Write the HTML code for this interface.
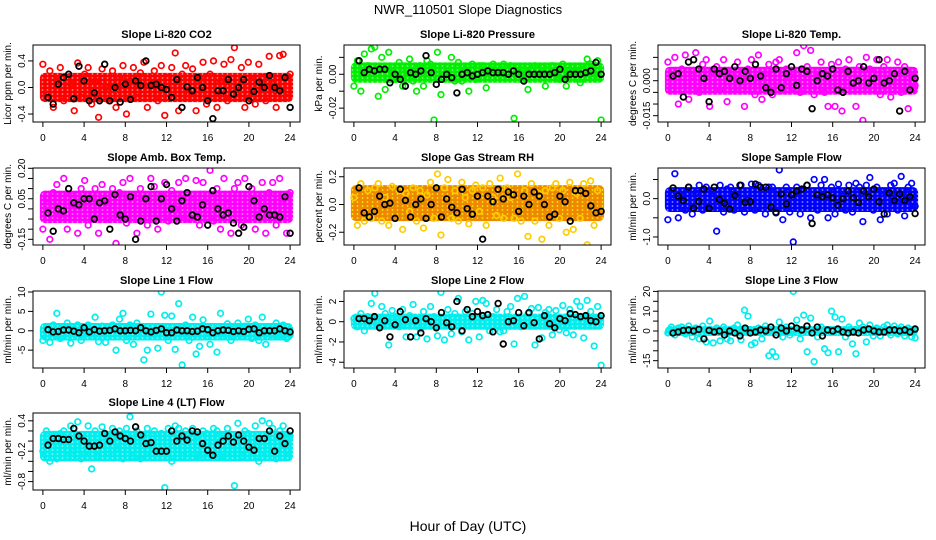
<!DOCTYPE html>
<html><head><meta charset="utf-8">
<style>
html,body{margin:0;padding:0;background:#fff;}
svg{display:block;font-family:"Liberation Sans",sans-serif;}
</style></head>
<body>
<svg id="chart" width="936" height="540" viewBox="0 0 936 540">
<text x="468" y="14" text-anchor="middle" font-size="13">NWR_110501  Slope Diagnostics</text>
<text x="468" y="531" text-anchor="middle" font-size="14">Hour of Day (UTC)</text>
</svg>
<script>
const hourTicks = [0,4,8,12,16,20,24];
const titles = ["Slope Li-820 CO2","Slope Li-820 Pressure","Slope Li-820 Temp.","Slope Amb. Box Temp.","Slope Gas Stream RH","Slope Sample Flow","Slope Line 1 Flow","Slope Line 2 Flow","Slope Line 3 Flow","Slope Line 4 (LT) Flow"];
const yTitles = ["Licor ppm per min.","kPa per min.","degrees C per min.","degrees C per min.","percent per min.","ml/min per min.","ml/min per min.","ml/min per min.","ml/min per min.","ml/min per min."];
const yRanges = [[-0.52,0.64],[-0.0282,0.0173],[-0.0177,0.0153],[-0.178,0.2015],[-0.292,0.263],[-1.21,0.80],[-9.6,10.26],[-4.57,3.03],[-18.7,20.2],[-0.966,0.554]];
const yTicks = [[-0.4,0,0.4],[-0.03,-0.02,-0.01,0,0.01],[-0.015,-0.01,-0.005,0,0.005,0.01],[-0.15,-0.1,-0.05,0,0.05,0.1,0.15,0.2],[-0.2,0,0.2],[-1,-0.5,0,0.5],[-5,0,5,10],[-4,-2,0,2],[-15,-10,-5,0,5,10,15,20],[-0.8,-0.6,-0.4,-0.2,0,0.2,0.4]];
const yTickLabels = [["-0.4","0.0","0.4"],["","-0.02","","0.00",""],["-0.015","","","0.000","",""],["-0.15","","","","0.05","","","0.20"],["-0.2","0.0","0.2"],["-1.0","","0.0",""],["-5","0","5","10"],["-4","-2","0","2"],["-15","","","0","","10","","20"],["-0.8","","","-0.2","","","0.4"]];
const colors = ["#ff0000","#00ee00","#ff00ff","#ff00ff","#ffcc00","#0000ff","#00eeee","#00eeee","#00eeee","#00eeee"];
const coreColors = ["#ff0000","#00ee00","#ff00ff","#ff00ff","#ee8800","#0000ff","#00eeee","#00eeee","#00eeee","#00eeee"];
const coreBands = [[-0.22,0.22],[-0.005,0.007],[-0.006,0.006],[-0.07,0.09],[-0.12,0.14],[-0.35,0.3],[-2.5,2],[-0.8,0.8],[-2.5,2.5],[-0.4,0.2]];
const colorVals = [
[0.35,-0.1,0.25,-0.3,0.1,0.3,-0.2,0.15,0.05,-0.35,0.37,-0.15,0.2,0.3,-0.25,0.1,-0.45,0.28,0.0,-0.2,0.25,-0.3,0.15,0.33,-0.4,0.1,0.3,-0.15,0.22,0.38,-0.3,0.05,0.25,-0.2,0.33,-0.42,0.15,0.3,0.52,-0.35,0.2,0.33,-0.1,0.28,-0.35,0.12,0.38,-0.25,0.2,0.4,-0.3,0.1,0.35,-0.2,0.42,0.6,-0.15,0.3,-0.3,0.38,0.1,-0.25,0.35,0.15,-0.2,0.47,0.05,-0.3,0.48,0.5,-0.15,0.2],
[-0.007,0.008,-0.01,0.012,0.005,0.015,0.016,-0.013,0.01,-0.009,0.013,0.004,-0.003,0.007,-0.007,0.002,0.009,-0.004,-0.01,0.005,-0.007,0.008,0.006,-0.027,0.013,-0.012,0.0,0.004,0.01,-0.004,0.007,-0.004,0.003,-0.01,0.006,-0.003,0.005,0.005,-0.008,0.003,0.006,0.004,0.0,0.006,-0.002,0.005,-0.026,0.004,0.0,0.003,-0.009,0.002,0.005,-0.002,0.004,-0.007,0.003,0.005,0.002,-0.003,0.006,-0.007,0.002,0.004,0.001,-0.005,0.003,0.009,0.006,-0.002,0.008,-0.027],
[0.008,-0.004,0.01,-0.01,0.005,0.011,-0.008,0.002,0.012,-0.005,0.007,0.009,-0.011,0.004,0.006,-0.004,0.009,-0.009,0.003,-0.004,0.008,0.001,-0.011,0.005,0.009,-0.006,0.011,-0.008,0.003,0.007,-0.006,0.008,0.009,-0.004,0.005,0.002,-0.003,0.012,-0.005,0.015,0.006,0.013,-0.006,0.004,0.008,-0.005,-0.011,0.007,-0.011,0.008,-0.013,0.005,0.009,-0.004,-0.011,0.006,-0.017,0.01,0.005,-0.004,0.009,-0.006,0.006,0.009,-0.007,0.003,0.008,-0.005,0.006,-0.012,0.004,-0.002],
[-0.1,0.05,-0.15,0.08,0.12,-0.03,0.15,-0.1,0.07,0.02,-0.12,0.1,0.14,-0.08,0.05,0.1,-0.12,0.12,0.03,-0.05,0.1,-0.17,0.08,0.13,-0.07,0.15,0.07,-0.12,0.1,0.05,-0.08,0.15,0.11,-0.1,0.06,0.13,-0.06,0.09,0.0,0.13,-0.03,0.15,-0.05,0.07,0.14,-0.08,0.13,0.05,0.19,-0.06,0.1,-0.1,0.15,0.05,-0.12,0.1,0.13,-0.08,0.15,-0.05,0.1,-0.1,0.05,0.13,-0.12,0.08,0.13,-0.08,0.15,0.05,-0.12,0.08],
[0.05,-0.15,0.15,-0.12,0.1,-0.1,0.12,0.15,-0.12,0.05,-0.15,0.13,-0.1,0.1,-0.18,0.08,-0.05,0.12,-0.12,0.1,-0.17,0.07,0.16,-0.1,0.22,-0.22,0.12,0.18,-0.1,0.1,-0.12,0.16,0.05,-0.14,0.1,0.14,-0.05,0.12,-0.15,0.15,0.05,-0.08,0.19,-0.1,0.12,0.05,-0.1,0.22,-0.12,0.1,-0.23,0.15,-0.12,0.08,-0.25,0.1,-0.15,0.12,0.15,-0.1,0.1,-0.2,0.16,-0.18,0.08,-0.1,0.15,-0.29,0.17,-0.15,0.1,-0.05],
[-0.55,0.1,0.65,-0.5,0.2,-0.3,0.3,-0.4,0.15,0.35,-0.3,0.3,-0.25,0.2,-0.85,0.35,-0.35,0.25,0.3,-0.3,0.2,0.35,-0.35,0.1,0.38,-0.3,0.35,0.25,-0.4,0.3,0.3,-0.35,0.75,-0.55,0.3,-0.35,-1.13,0.3,-0.4,0.25,0.35,-0.5,0.5,-0.3,0.35,0.5,-0.5,0.3,-0.4,0.38,0.2,-0.3,0.35,-0.35,0.4,0.3,-0.6,0.35,0.55,-0.3,0.3,-0.55,0.2,-0.4,0.35,0.4,-0.3,0.58,-0.45,0.3,0.4,-0.2],
[-2.5,0.5,-3,1.5,4.5,-2,1.0,2.0,-3.2,0.5,1.5,-2.5,0.8,1.5,-1.5,3.5,-2.8,1.2,-3,0.5,1.5,-5,3,4.5,-2.5,1.5,-3.5,2,0.8,-7.5,-5,4.3,-1,-4.5,10,4,-2.5,3.8,-4.8,7,-8.8,1.5,-2.5,3.5,-6,-4,2.8,-1.5,-3.5,1,-5.5,4.5,-1.5,1.8,-2.5,0.8,2,-1.5,1.2,3,-2,1.5,-2.5,3.5,-3.5,1,-1,2,-1.5,1.5,-2,-1],
[0.3,-0.5,0.8,-0.9,0.5,1.8,2.8,-0.4,1.5,0.8,-2.3,1.1,0.5,-0.5,1.2,-1.5,0.6,1.7,-1.5,-0.7,1.0,-1.7,1.5,0.5,-1.4,2.9,-1.8,1.2,-1.2,0.8,2.3,-1.0,1.0,-1.8,0.8,2.0,-1.5,2.1,1.8,-0.9,0.5,1.2,-1.0,-0.9,1.0,1.5,-2.2,2.3,-0.5,2.5,0.8,1.3,-2.3,1.4,-1.6,0.9,1.2,-1.3,1.1,-0.8,1.6,-1.1,1.2,-1.3,2.0,1.5,-1.6,2.1,1.0,-2.4,1.5,-4.3],
[-1,2,-2,1.5,2,-1.5,2.5,-3,1.5,-4,2.5,-5.5,5,-6,1.5,-5,2,-4,-5,1.5,3,-4.5,10.5,7.5,-7,-6,1.5,-4,2.5,-12.5,-10.5,-13,4.5,-3,2,-2,20,5.5,-4,8,-10.5,6.5,-15.5,-3,2,-9,-11,10,7,-10.5,6,-3,2,-6.5,-11.5,4,2,-5.5,3,-2.5,1.5,-2.5,2,3,-2,2.5,-1.5,2,-2.5,1.5,-3,-3.5],
[-0.2,0.2,-0.4,0.1,-0.35,0.15,0.2,-0.3,0.3,-0.2,0.38,-0.35,-0.25,0.3,-0.55,0.2,-0.3,0.28,0.1,-0.25,0.25,-0.15,0.2,-0.35,0.25,0.48,-0.3,0.2,-0.35,0.1,0.25,-0.25,0.2,-0.1,0.15,-0.92,0.25,-0.4,0.3,0.25,-0.3,0.2,-0.25,0.25,0.1,-0.3,0.2,0.15,-0.25,0.25,0.2,-0.3,0.1,0.25,-0.25,-0.88,0.35,-0.3,0.2,0.15,-0.2,0.3,-0.4,0.4,-0.25,0.35,0.25,-0.35,0.2,0.3,-0.2,0.1]
];
const blackVals = [
[-0.15,-0.25,0.05,0.15,0.2,-0.17,0.32,0.1,-0.2,-0.08,-0.2,0.35,-0.2,0.0,-0.22,0.05,-0.18,0.1,0.03,0.4,0.03,0.05,0.0,-0.03,-0.15,0.12,-0.3,0.01,-0.05,0.15,0.0,-0.2,-0.47,-0.05,-0.05,0.12,-0.1,0.0,0.12,-0.2,-0.06,0.08,0.0,0.18,0.0,-0.05,0.15,-0.3],
[0.008,0.001,0.003,0.002,0.003,0.003,-0.005,0.0,-0.003,-0.007,0.001,0.0,0.002,0.011,0.001,-0.006,-0.003,0.0,-0.002,-0.011,0.0,0.001,-0.001,0.0,0.001,0.002,0.001,0.001,0.001,0.0,0.002,0.0,-0.004,0.0,0.0,0.0,0.0,0.0,0.001,0.003,-0.003,0.0,0.0,0.0,0.001,0.002,0.007,0.0],
[0.002,0.003,-0.007,0.008,0.009,0.005,0.001,-0.009,0.005,0.003,0.004,0.001,0.006,0.0,0.004,0.001,0.007,0.002,-0.003,-0.005,0.005,-0.003,0.003,0.006,-0.002,0.005,0.004,-0.012,0.0,0.003,0.002,0.005,-0.004,-0.005,0.004,-0.001,0.0,0.006,-0.001,0.001,0.009,-0.001,0.0,0.003,-0.013,0.004,-0.004,0.001],
[-0.02,-0.11,0.0,-0.01,0.1,0.03,0.02,0.05,0.05,-0.05,0.03,0.04,-0.1,0.07,-0.03,-0.05,0.06,-0.15,-0.06,0.05,0.11,-0.06,0.05,0.12,0.0,-0.06,0.04,0.08,-0.03,-0.04,0.02,-0.08,0.09,0.0,-0.03,-0.02,-0.07,-0.12,-0.09,0.11,0.04,-0.04,0.0,-0.03,-0.03,-0.04,0.06,-0.12],
[0.12,-0.06,-0.09,-0.05,0.06,0.0,0.01,-0.1,0.11,0.03,-0.09,0.0,0.04,-0.1,0.0,0.12,-0.09,0.04,-0.02,-0.06,0.11,-0.03,-0.07,0.06,-0.25,0.06,0.02,0.11,0.04,0.09,0.07,-0.05,0.06,0.0,0.09,0.06,0.0,-0.09,-0.07,0.06,0.02,-0.12,0.1,0.1,0.08,-0.01,-0.06,-0.05],
[0.28,0.07,-0.05,0.3,-0.25,-0.07,0.25,-0.25,0.3,-0.02,-0.12,-0.27,0.08,0.35,-0.1,-0.08,0.38,0.3,0.3,-0.22,-0.37,0.12,-0.14,0.1,0.2,0.25,0.35,-0.65,0.1,0.05,0.1,0.02,-0.17,0.0,0.2,0.02,-0.1,0.2,0.05,0.25,-0.08,-0.4,0.15,-0.05,0.12,-0.05,0.05,-0.39],
[0.3,-0.3,-0.2,0.2,0.2,-0.1,-0.5,0.8,-0.3,0.3,-0.1,0.0,0.1,0.5,0.0,0.0,0.1,0.0,0.8,0.0,-0.3,0.1,0.5,-0.5,-0.5,0.2,0.0,0.0,-0.2,-0.1,0.5,0.3,-0.5,0.0,0.2,0.1,-0.2,0.0,-0.2,0.4,0.5,-0.5,0.0,0.0,0.0,0.5,0.0,-0.3],
[0.3,0.3,0.1,0.5,-0.6,0.1,-1.5,-0.3,1.0,0.2,-1.5,0.1,-1.1,0.3,0.0,-0.6,0.9,-0.1,-0.5,2.0,-0.9,1.2,0.5,1.0,0.6,0.7,-1.0,1.8,-2.2,0.0,0.1,0.9,-0.4,0.9,-0.1,-1.7,0.6,-0.2,-0.6,0.3,0.1,0.8,0.7,0.5,0.6,0.1,0.0,0.6],
[-1,-0.5,0.3,0.5,0,0.8,-4,0.3,-0.5,0,-2,0,-1,-2.5,1.5,-1,-0.5,0.5,0,2,-2,1.5,0,2.5,1.5,0.5,2.5,-1,2,-2.5,0.5,0,1,-0.5,-1,-0.5,-1,0.5,1,0,-0.5,-0.5,0.5,0.5,0,0.5,-0.5,1],
[-0.08,0.05,0.05,0.03,0.03,0.25,0.1,0.0,-0.1,-0.1,-0.08,0.15,0.0,0.18,0.1,0.05,0.0,0.28,0.12,-0.05,-0.03,-0.2,-0.2,-0.2,0.2,0.0,0.1,0.02,0.2,0.18,-0.05,-0.18,-0.28,-0.08,0.0,0.1,-0.02,0.12,0.0,-0.12,-0.18,0.05,0.05,0.2,-0.2,0.1,-0.05,0.2]
];

const NS = "http://www.w3.org/2000/svg";
const svg = document.getElementById("chart");
const colLeft = [33, 344, 658], boxW = 267, rowTop = [45, 168, 291, 413], boxH = 77;
function mk(tag, attrs, parent){ const e = document.createElementNS(NS, tag); for (const k in attrs) e.setAttribute(k, attrs[k]); (parent||svg).appendChild(e); return e; }
const defs = mk("defs", {});

titles.forEach((title, p) => {
  const L = colLeft[p % 3], T = rowTop[Math.floor(p / 3)];
  const xs = h => L + (h + 0.96) / 25.92 * boxW;
  const [y0, y1] = yRanges[p];
  const ys = v => T + boxH - (v - y0) / (y1 - y0) * boxH;
  // ring texture pattern for the dense cloud
  const pat = mk("pattern", {id: "pat" + p, width: 5, height: 4, patternUnits: "userSpaceOnUse"}, defs);
  mk("rect", {x: 0, y: 0, width: 5, height: 4, fill: coreColors[p]}, pat);
  mk("circle", {cx: 2.5, cy: 2, r: 0.9, fill: p === 4 ? "#ffee00" : "#ffffff", "fill-opacity": p === 4 ? 1 : 0.55}, pat);
  const g = mk("g", {});
  
  
  const cp = mk("clipPath", {id: "clip" + p}, g);
  mk("rect", {x: L, y: T, width: boxW, height: boxH}, cp);
  const plot = mk("g", {"clip-path": "url(#clip" + p + ")"}, g);
  const band = mk("rect", {x: xs(0) - 3, y: ys(coreBands[p][1]), width: xs(24) - xs(0) + 6, height: ys(coreBands[p][0]) - ys(coreBands[p][1]), fill: "url(#pat" + p + ")", rx: 5}, plot);
  
  
  const n = colorVals[p].length;
  colorVals[p].forEach((v, i) => {
    const c = mk("circle", {cx: xs(i * 24 / (n - 1)), cy: ys(v), r: 2.8, fill: "none", stroke: colors[p], "stroke-width": 1.7}, plot);
    
    
  });
  blackVals[p].forEach((v, i) => {
    const c = mk("circle", {cx: xs(0.5 + i * 0.5), cy: ys(v), r: 2.8, fill: "none", stroke: "#000", "stroke-width": 1.8}, plot);
    
    
  });
  const box = mk("rect", {x: L, y: T, width: boxW, height: boxH, fill: "none", stroke: "#000", "stroke-width": 1}, g);
  
  
  const t = mk("text", {x: L + boxW / 2, y: T - 7, "text-anchor": "middle", "font-size": 11, "font-weight": "bold"}, g);
  t.textContent = title;
  
  
  hourTicks.forEach(h => {
    mk("line", {x1: xs(h), x2: xs(h), y1: T + boxH, y2: T + boxH + 5, stroke: "#000"}, g);
    const tl = mk("text", {x: xs(h), y: T + boxH + 19, "text-anchor": "middle", "font-size": 10}, g);
    tl.textContent = h;
    
    
  });
  yTicks[p].forEach((v, i) => {
    const y = ys(v);
    if (y < T - 1 || y > T + boxH + 1) return;
    mk("line", {x1: L - 5, x2: L, y1: y, y2: y, stroke: "#000"}, g);
    const lab = yTickLabels[p][i];
    if (lab) {
      const tl = mk("text", {x: L - 8, y: y, "text-anchor": "middle", "font-size": 10, transform: "rotate(-90 " + (L - 8) + " " + y + ")"}, g);
      tl.textContent = lab;
      
      
    }
  });
  const yt = mk("text", {x: L - 22, y: T + boxH / 2, "text-anchor": "middle", "font-size": 10, transform: "rotate(-90 " + (L - 22) + " " + (T + boxH / 2) + ")"}, g);
  yt.textContent = yTitles[p];
  
  
});
</script>
</body></html>
